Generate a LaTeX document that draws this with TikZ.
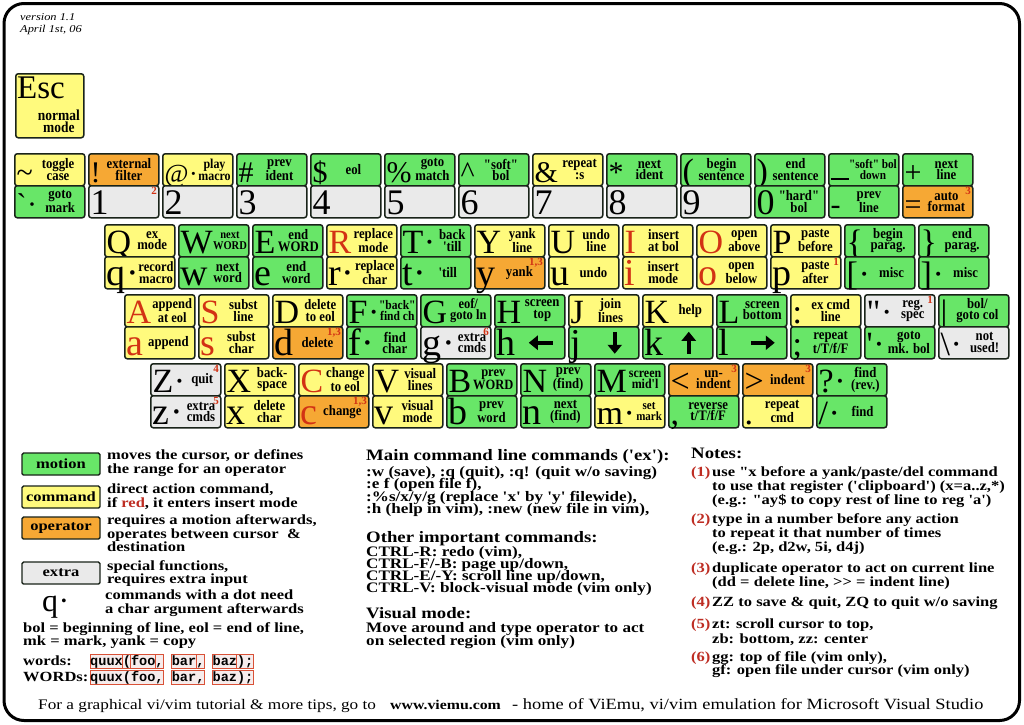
\documentclass[tikz,border=0pt]{standalone}
\usepackage{fontspec}
\setmainfont{Liberation Serif}
\newfontfamily\keyf{Liberation Serif}
\newfontfamily\lblf{Liberation Serif}[FakeStretch=0.88]
\newfontfamily\bodyf{Liberation Serif}[FakeStretch=1.18]
\newfontfamily\monof{Liberation Mono}
\usetikzlibrary{arrows.meta,calc}
\definecolor{kgreen}{RGB}{104,230,104}
\definecolor{kyellow}{RGB}{255,250,125}
\definecolor{korange}{RGB}{246,168,52}
\definecolor{kgrey}{RGB}{234,234,234}
\definecolor{kborder}{RGB}{25,35,25}
\definecolor{kred}{RGB}{210,50,20}
\definecolor{knote}{RGB}{190,45,35}
\definecolor{kcode}{RGB}{246,236,236}
\newcommand{\bgU}[1]{{\fontsize{34}{34}\selectfont #1}}
\newcommand{\bgL}[1]{{\fontsize{38}{38}\selectfont #1}}
\newcommand{\bgS}[1]{{\fontsize{30}{30}\selectfont #1}}
\newcommand{\bgN}[1]{{\fontsize{36}{36}\selectfont #1}}
\newcommand{\dotc}{{\kern0.5pt·}}
\newcommand{\redc}[1]{\textcolor{kred}{#1}}
\tikzset{
  keyhalf/.style={draw=kborder, line width=1.5pt, rounded corners=2.5pt, minimum width=70pt, minimum height=32pt, inner sep=0pt, anchor=north west},
  bigch/.style={anchor=base west, inner sep=0pt, font=\keyf},
  klbl/.style={anchor=center, inner sep=0pt, align=center, font=\lblf\bfseries\fontsize{14.5}{11.5}\selectfont},
  ksupn/.style={anchor=north east, inner sep=0pt, text=kred, font=\keyf\bfseries\fontsize{11}{11}\selectfont},
  karrow/.style={line width=4.5pt, -{Triangle[length=9pt,width=14pt]}},
  legbox/.style={draw=kborder, line width=1.4pt, rounded corners=1.5pt, minimum width=78pt, minimum height=22pt, inner sep=0pt, font=\bodyf\bfseries\fontsize{14}{14}\selectfont},
  tb/.style={anchor=base west, inner sep=0pt, font=\bodyf\bfseries\fontsize{14}{14}\selectfont},
  tm/.style={anchor=base west, inner sep=0pt, font=\bodyf\bfseries\fontsize{14.5}{14.5}\selectfont},
  tl/.style={anchor=base west, inner sep=0pt, font=\bodyf\bfseries\fontsize{14}{14}\selectfont},
  th/.style={anchor=base west, inner sep=0pt, font=\bodyf\bfseries\fontsize{15.9}{15.9}\selectfont},
  tn/.style={anchor=base west, inner sep=0pt, text=knote, font=\bodyf\bfseries\fontsize{14}{14}\selectfont},
  tf/.style={anchor=base west, inner sep=0pt, font=\bodyf\fontsize{14.6}{14.6}\selectfont},
  tv/.style={anchor=base west, inner sep=0pt, font=\bodyf\itshape\fontsize{10.5}{10.5}\selectfont},
  code/.style={anchor=base west, inner sep=0pt, font=\monof\bfseries\fontsize{13.6}{13.6}\selectfont},
  codebox/.style={draw=kred!85, line width=0.8pt, fill=kcode},
}
\NewDocumentCommand{\khalf}{O{14.5} m m m m m m}{%
  \node[keyhalf, fill=#5] (#2) at (#3,#4) {};
  \node[bigch] (#2c) at ([xshift=2.5pt,yshift=4.5pt]#2.south west) {#6};
  \node[klbl, font=\lblf\bfseries\fontsize{#1}{11.5}\selectfont] (#2t) at ($(#2c.east |- #2.east)!0.5!([xshift=-2.5pt]#2.east)$) {#7};
}
\newcommand{\ksup}[2]{\node[ksupn] (#1s) at ([xshift=-2.5pt,yshift=-2pt]#1.north east) {#2};}
\newcommand{\cbx}[3]{\draw[codebox] ({90+8.16*#2},{#1-10.5}) rectangle ({90+8.16*#3},{#1+3});}
\begin{document}
\begin{tikzpicture}[x=1pt,y=-1pt]
\useasboundingbox (0,0) rectangle (1024,724);
\fill[white] (0,0) rectangle (1024,724);
\draw[line width=3pt, rounded corners=20pt] (4,3.5) rectangle (1019.5,720.5);
\node[tv] (ver1) at (20,20) {version 1.1};
\node[tv] (ver2) at (20,32) {April 1st, 06};
% Esc
\node[keyhalf, fill=kyellow, minimum width=68pt, minimum height=64pt] (kEsc) at (15,73) {};
\node[bigch] (kEscc) at (17,98) {\fontsize{33}{33}\selectfont Esc};
\node[klbl, anchor=east, font=\lblf\bfseries\fontsize{15.3}{12}\selectfont] (kEsct) at (80,121) {normal\\mode};
% number row
\khalf{kTilU}{14}{153}{kyellow}{\bgS{\textasciitilde}}{toggle\\case}
\khalf{kTilL}{14}{185}{kgreen}{\bgS{\textasciigrave\dotc}}{goto\\mark}
\khalf{kBanU}{88}{153}{korange}{\bgS{!}}{external\\filter}
\khalf{kBanL}{88}{185}{kgrey}{\bgN{1}}{}
\ksup{kBanL}{2}
\khalf[13.6]{kAtU}{162}{153}{kyellow}{{\fontsize{26}{26}\selectfont @\dotc}}{play\\macro}
\khalf{kAtL}{162}{185}{kgrey}{\bgN{2}}{}
\khalf{kHasU}{236}{153}{kgreen}{\bgS{\#}}{prev\\ident}
\khalf{kHasL}{236}{185}{kgrey}{\bgN{3}}{}
\khalf{kDolU}{310}{153}{kgreen}{\bgS{\$}}{eol}
\khalf{kDolL}{310}{185}{kgrey}{\bgN{4}}{}
\khalf{kPctU}{384}{153}{kgreen}{\bgS{\%}}{goto\\match}
\khalf{kPctL}{384}{185}{kgrey}{\bgN{5}}{}
\khalf{kCarU}{458}{153}{kgreen}{\bgS{\textasciicircum}}{"soft"\\bol}
\khalf{kCarL}{458}{185}{kgrey}{\bgN{6}}{}
\khalf{kAmpU}{532}{153}{kyellow}{\bgS{\&}}{repeat\\:s}
\khalf{kAmpL}{532}{185}{kgrey}{\bgN{7}}{}
\khalf{kStaU}{606}{153}{kgreen}{\bgS{*}}{next\\ident}
\khalf{kStaL}{606}{185}{kgrey}{\bgN{8}}{}
\khalf{kLpaU}{680}{153}{kgreen}{\bgU{(}}{begin\\sentence}
\khalf{kLpaL}{680}{185}{kgrey}{\bgN{9}}{}
\khalf{kRpaU}{754}{153}{kgreen}{\bgU{)}}{end\\sentence}
\khalf{kRpaL}{754}{185}{kgreen}{\bgN{0}}{"hard"\\bol}
\khalf[12.8]{kUndU}{828}{153}{kgreen}{\raisebox{2pt}{\rule{18pt}{2pt}}}{"soft" bol\\down}
\khalf{kUndL}{828}{185}{kgreen}{\bgS{-}}{prev\\line}
\khalf{kPluU}{902}{153}{kgreen}{\bgS{+}}{next\\line}
\khalf{kPluL}{902}{185}{korange}{\bgS{=}}{auto\\format}
\ksup{kPluL}{3}
% Q row
\khalf{kQU}{104}{224}{kyellow}{\bgU{Q}}{ex\\mode}
\khalf[14.2]{kQL}{104}{256}{kyellow}{\bgL{q\dotc}}{record\\macro}
\khalf[11.9]{kWU}{178}{224}{kgreen}{\bgU{W}}{next\\WORD}
\khalf{kWL}{178}{256}{kgreen}{\bgL{w}}{next\\word}
\khalf{kEU}{252}{224}{kgreen}{\bgU{E}}{end\\WORD}
\khalf{kEL}{252}{256}{kgreen}{\bgL{e}}{end\\word}
\khalf{kRU}{326}{224}{kyellow}{\bgU{\redc{R}}}{replace\\mode}
\khalf{kRL}{326}{256}{kyellow}{\bgL{r\dotc}}{replace\\char}
\khalf{kTU}{400}{224}{kgreen}{\bgU{T\dotc}}{back\\'till}
\khalf{kTL}{400}{256}{kgreen}{\bgL{t\dotc}}{'till}
\khalf{kYU}{474}{224}{kyellow}{\bgU{Y}}{yank\\line}
\khalf{kYL}{474}{256}{korange}{\bgL{y}}{yank}
\ksup{kYL}{1,3}
\khalf{kUU}{548}{224}{kyellow}{\bgU{U}}{undo\\line}
\khalf{kUL}{548}{256}{kyellow}{\bgL{u}}{undo}
\khalf{kIU}{622}{224}{kyellow}{\bgU{\redc{I}}}{insert\\at bol}
\khalf{kIL}{622}{256}{kyellow}{\bgL{\redc{i}}}{insert\\mode}
\khalf{kOU}{696}{224}{kyellow}{\bgU{\redc{O}}}{open\\above}
\khalf{kOL}{696}{256}{kyellow}{\bgL{\redc{o}}}{open\\below}
\khalf{kPU}{770}{224}{kyellow}{\bgU{P}}{paste\\before}
\khalf{kPL}{770}{256}{kyellow}{\bgL{p}}{paste\\after}
\ksup{kPL}{1}
\khalf{kLbrU}{844}{224}{kgreen}{\bgU{\{}}{begin\\parag.}
\khalf{kLbrL}{844}{256}{kgreen}{\bgU{[\dotc}}{misc}
\khalf{kRbrU}{918}{224}{kgreen}{\bgU{\}}}{end\\parag.}
\khalf{kRbrL}{918}{256}{kgreen}{\bgU{]\dotc}}{misc}
% A row
\khalf[14.2]{kAU}{124}{294}{kyellow}{\bgU{\redc{A}}}{append\\at eol}
\khalf{kAL}{124}{326}{kyellow}{\bgL{\redc{a}}}{append}
\khalf{kSU}{198}{294}{kyellow}{\bgU{\redc{S}}}{subst\\line}
\khalf{kSL}{198}{326}{kyellow}{\bgL{\redc{s}}}{subst\\char}
\khalf{kDU}{272}{294}{kyellow}{\bgU{D}}{delete\\to eol}
\khalf{kDL}{272}{326}{korange}{\bgL{d}}{delete}
\ksup{kDL}{1,3}
\khalf[13.1]{kFU}{346}{294}{kgreen}{\bgU{F\dotc}}{"back"\\find ch}
\khalf{kFL}{346}{326}{kgreen}{\bgL{f\dotc}}{find\\char}
\khalf[14.2]{kGU}{420}{294}{kgreen}{\bgU{G}}{eof/\\goto ln}
\khalf{kGL}{420}{326}{kgrey}{\bgL{g\dotc}}{extra\\cmds}
\ksup{kGL}{6}
\khalf{kHU}{494}{294}{kgreen}{\bgU{H}}{screen\\top}
\khalf{kHL}{494}{326}{kgreen}{\bgL{h}}{}
\khalf{kJU}{568}{294}{kyellow}{\bgU{J}}{join\\lines}
\khalf{kJL}{568}{326}{kgreen}{\bgL{j}}{}
\khalf{kKU}{642}{294}{kyellow}{\bgU{K}}{help}
\khalf{kKL}{642}{326}{kgreen}{\bgL{k}}{}
\khalf{kLU}{716}{294}{kgreen}{\bgU{L}}{screen\\bottom}
\khalf{kLL}{716}{326}{kgreen}{\bgL{l}}{}
\khalf{kColU}{790}{294}{kyellow}{\bgU{:}}{ex cmd\\line}
\khalf{kColL}{790}{326}{kgreen}{\bgU{;}}{repeat\\t/T/f/F}
\khalf{kQuoU}{864}{294}{kgrey}{\bgU{"\dotc}}{reg.\\spec}
\ksup{kQuoU}{1}
\khalf{kQuoL}{864}{326}{kgreen}{\bgU{'\dotc}}{goto\\mk. bol}
\khalf{kBarU}{938}{294}{kgreen}{\bgU{|}}{bol/\\goto col}
\khalf{kBarL}{938}{326}{kgrey}{\bgU{\textbackslash\dotc}}{not\\used!}
\draw[karrow] ([xshift=23pt]kHL.center) -- ([xshift=-1pt]kHL.center);
\draw[karrow] ([xshift=11pt,yshift=11pt]kJL.center) -- ([xshift=11pt,yshift=-11pt]kJL.center);
\draw[karrow] ([xshift=11pt,yshift=-11pt]kKL.center) -- ([xshift=11pt,yshift=11pt]kKL.center);
\draw[karrow] ([xshift=-1pt]kLL.center) -- ([xshift=23pt]kLL.center);
% Z row
\khalf{kZU}{150}{363}{kgrey}{\bgU{Z\dotc}}{quit}
\ksup{kZU}{4}
\khalf{kZL}{150}{395}{kgrey}{\bgL{z\dotc}}{extra\\cmds}
\ksup{kZL}{5}
\khalf{kXU}{224}{363}{kyellow}{\bgU{X}}{back-\\space}
\khalf{kXL}{224}{395}{kyellow}{\bgL{x}}{delete\\char}
\khalf{kCU}{298}{363}{kyellow}{\bgU{\redc{C}}}{change\\to eol}
\khalf{kCL}{298}{395}{korange}{\bgL{\redc{c}}}{change}
\ksup{kCL}{1,3}
\khalf{kVU}{372}{363}{kyellow}{\bgU{V}}{visual\\lines}
\khalf{kVL}{372}{395}{kyellow}{\bgL{v}}{visual\\mode}
\khalf[14.2]{kBU}{446}{363}{kgreen}{\bgU{B}}{prev\\WORD}
\khalf{kBL}{446}{395}{kgreen}{\bgL{b}}{prev\\word}
\khalf{kNU}{520}{363}{kgreen}{\bgU{N}}{prev\\(find)}
\khalf{kNL}{520}{395}{kgreen}{\bgL{n}}{next\\(find)}
\khalf[13.6]{kMU}{594}{363}{kgreen}{\bgU{M}}{screen\\mid'l}
\khalf[12.5]{kML}{594}{395}{kyellow}{\bgU{m\dotc}}{set\\mark}
\khalf{kLtU}{668}{363}{korange}{\bgU{<}}{un-\\indent}
\ksup{kLtU}{3}
\khalf{kLtL}{668}{395}{kgreen}{\bgU{,}}{reverse\\t/T/f/F}
\khalf{kGtU}{742}{363}{korange}{\bgU{>}}{indent}
\ksup{kGtU}{3}
\khalf{kGtL}{742}{395}{kyellow}{\bgU{.}}{repeat\\cmd}
\khalf{kQmU}{816}{363}{kgreen}{\bgU{?\dotc}}{find\\(rev.)}
\khalf{kQmL}{816}{395}{kgreen}{\bgU{/\dotc}}{find}
% legend
\node[legbox, fill=kgreen] (lgMotion) at (61,464) {motion};
\node[legbox, fill=kyellow] (lgCommand) at (61,497) {command};
\node[legbox, fill=korange] (lgOperator) at (61,528) {operator};
\node[legbox, fill=kgrey] (lgExtra) at (61,573) {extra};
\node[tl] (lt1) at (107,459) {moves the cursor, or defines};
\node[tl] (lt2) at (107,473) {the range for an operator};
\node[tl] (lt3) at (107,493) {direct action command,};
\node[tl] (lt4) at (107,507) {if \textcolor{knote}{red}, it enters insert mode};
\node[tl] (lt5) at (107,524) {requires a motion afterwards,};
\node[tl] (lt6) at (107,538) {operates between cursor \ \&};
\node[tl] (lt7) at (107,551) {destination};
\node[tl] (lt8) at (107,570) {special functions,};
\node[tl] (lt9) at (107,583) {requires extra input};
\node[bigch] (lgq) at (42,611) {\fontsize{32}{32}\selectfont q\dotc};
\node[tl] (lt10) at (105,599) {commands with a dot need};
\node[tl] (lt11) at (105,613) {a char argument afterwards};
\node[tl] (lt12) at (23,632) {bol = beginning of line, eol = end of line,};
\node[tl] (lt13) at (23,645) {mk = mark, yank = copy};
\node[tl] (lt14) at (23,665) {words:};
\node[tl] (lt15) at (23,681) {WORDs:};
\cbx{665}{0}{4}\cbx{665}{4}{5}\cbx{665}{5}{8}\cbx{665}{8}{9}\cbx{665}{10}{13}\cbx{665}{13}{14}\cbx{665}{15}{18}\cbx{665}{18}{20}
\cbx{681}{0}{9}\cbx{681}{10}{14}\cbx{681}{15}{20}
\node[code] (cw1) at (90,665) {quux(foo, bar, baz);};
\node[code] (cw2) at (90,681) {quux(foo, bar, baz);};
% middle column
\node[th] (mh1) at (366,460) {Main command line commands ('ex'):};
\node[tm] (m1) at (366,476) {:w (save), :q (quit), :q! (quit w/o saving)};
\node[tm] (m2) at (366,488) {:e f (open file f),};
\node[tm] (m3) at (366,501) {:\%s/x/y/g (replace 'x' by 'y' filewide),};
\node[tm] (m4) at (366,513) {:h (help in vim), :new (new file in vim),};
\node[th] (mh2) at (366,542) {Other important commands:};
\node[tm] (m5) at (366,556) {CTRL-R: redo (vim),};
\node[tm] (m6) at (366,568) {CTRL-F/-B: page up/down,};
\node[tm] (m7) at (366,580) {CTRL-E/-Y: scroll line up/down,};
\node[tm] (m8) at (366,592) {CTRL-V: block-visual mode (vim only)};
\node[th] (mh3) at (366,618) {Visual mode:};
\node[tm] (m9) at (366,632) {Move around and type operator to act};
\node[tm] (m10) at (366,645) {on selected region (vim only)};
% notes
\node[th] (nh) at (691,458) {Notes:};
\node[tn] (n1) at (691,476) {(1)};
\node[tb] (n1a) at (712,476) {use "x before a yank/paste/del command};
\node[tb] (n1b) at (712,490) {to use that register ('clipboard') (x=a..z,*)};
\node[tb] (n1c) at (712,504) {(e.g.: "ay\$ to copy rest of line to reg 'a')};
\node[tn] (n2) at (691,523) {(2)};
\node[tb] (n2a) at (712,523) {type in a number before any action};
\node[tb] (n2b) at (712,537) {to repeat it that number of times};
\node[tb] (n2c) at (712,551) {(e.g.: 2p, d2w, 5i, d4j)};
\node[tn] (n3) at (691,572) {(3)};
\node[tb] (n3a) at (712,572) {duplicate operator to act on current line};
\node[tb] (n3b) at (712,586) {(dd = delete line, >{}> = indent line)};
\node[tn] (n4) at (691,606) {(4)};
\node[tb] (n4a) at (712,606) {ZZ to save \& quit, ZQ to quit w/o saving};
\node[tn] (n5) at (691,628) {(5)};
\node[tb] (n5a) at (712,628) {zt: scroll cursor to top,};
\node[tb] (n5b) at (712,643) {zb: bottom, zz: center};
\node[tn] (n6) at (691,661) {(6)};
\node[tb] (n6a) at (712,661) {gg: top of file (vim only),};
\node[tb] (n6b) at (712,674) {gf: open file under cursor (vim only)};
% footer
\node[tf] (f1) at (38,709) {For a graphical vi/vim tutorial \& more tips, go to};
\node[tf, font=\bodyf\bfseries\fontsize{13.4}{13.4}\selectfont] (f2) at (390,709) {www.viemu.com};
\node[tf, font=\bodyf\fontsize{15.6}{15.6}\selectfont] (f3) at (512,709) {- home of ViEmu, vi/vim emulation for Microsoft Visual Studio};
\end{tikzpicture}
\end{document}
